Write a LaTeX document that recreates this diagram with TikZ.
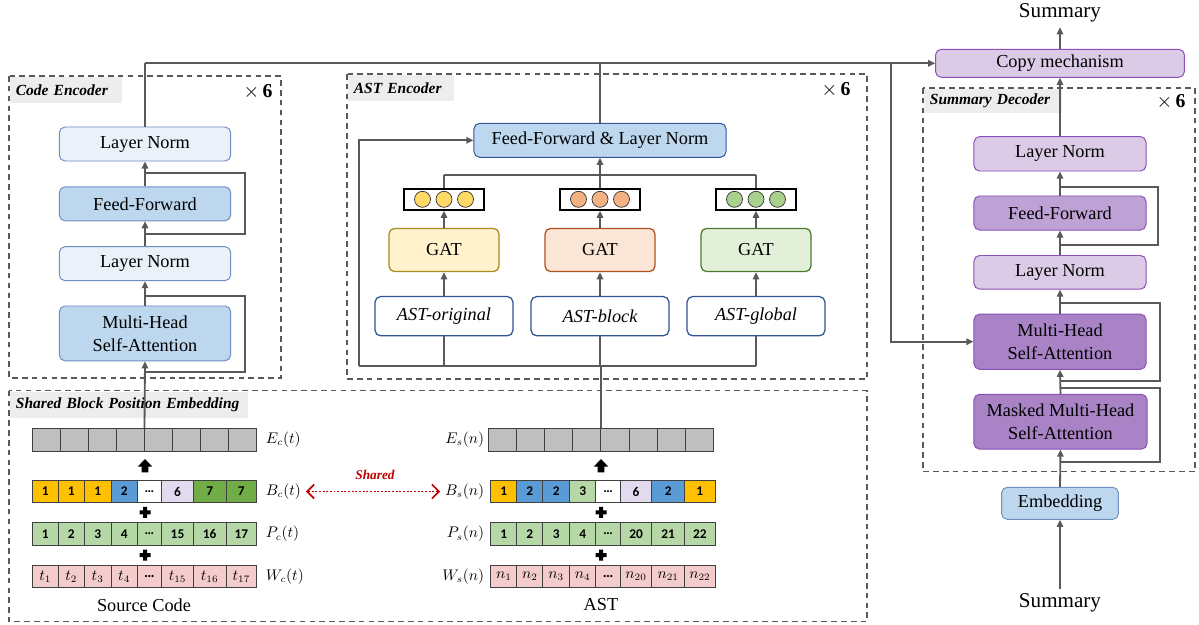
\documentclass[tikz,border=0pt]{standalone}
\usepackage{fontspec}
\setmainfont{Liberation Serif}
\newfontfamily\cellfont{Carlito}
\usetikzlibrary{arrows.meta}

\definecolor{linegray}{HTML}{595959}
\definecolor{tagbg}{HTML}{EDEDED}
\definecolor{encLight}{HTML}{EAF1F9}
\definecolor{encBlue}{HTML}{BDD7EE}
\definecolor{encEdge}{HTML}{6F8FBF}
\definecolor{astEdge}{HTML}{2F5597}
\definecolor{gatYfill}{HTML}{FFF2CC}
\definecolor{gatYedge}{HTML}{A68A1C}
\definecolor{gatOfill}{HTML}{FBE5D6}
\definecolor{gatOedge}{HTML}{B0501E}
\definecolor{gatGfill}{HTML}{E2F0D9}
\definecolor{gatGedge}{HTML}{4E7A30}
\definecolor{dotY}{HTML}{FFD966}
\definecolor{dotO}{HTML}{F4B183}
\definecolor{dotG}{HTML}{A9D18E}
\definecolor{decLight}{HTML}{DCCBE6}
\definecolor{decMid}{HTML}{BFA2D5}
\definecolor{decDark}{HTML}{A983C6}
\definecolor{decEdge}{HTML}{8A4FB8}
\definecolor{cellGray}{HTML}{BFBFBF}
\definecolor{cellYel}{HTML}{FFC000}
\definecolor{cellBlue}{HTML}{5B9BD5}
\definecolor{cellPurp}{HTML}{E4DAF0}
\definecolor{cellGreen}{HTML}{70AD47}
\definecolor{cellPos}{HTML}{B5D8A6}
\definecolor{cellTok}{HTML}{F4CCCC}
\definecolor{sharedRed}{HTML}{C00000}

\begin{document}
\begin{tikzpicture}[x=0.025cm, y=-0.025cm,
	every node/.style={font=\fontsize{13}{16.5}\selectfont},
	>={Triangle[length=5pt, width=4.5pt]},
	blk/.style={draw, rounded corners=4pt, align=center, line width=0.7pt, inner sep=1pt},
	link/.style={draw=linegray, line width=1.3pt},
	frame/.style={draw=linegray, line width=0.9pt, dash pattern=on 4pt off 3pt},
	tag/.style={fill=tagbg, anchor=north west, align=left, inner xsep=4pt, minimum height=0.65cm, font=\fontsize{11}{13}\selectfont\bfseries\itshape},
	rep/.style={font=\fontsize{14}{16}\selectfont},
	cell/.style={draw=black!75, line width=0.6pt},
	num/.style={font=\cellfont\bfseries\fontsize{9.5}{11}\selectfont},
	tok/.style={font=\fontsize{10.5}{12}\selectfont},
	eq/.style={font=\fontsize{10.5}{12}\selectfont},
	vecbox/.style={draw=black, line width=1.3pt, minimum width=1.98cm, minimum height=0.53cm, inner sep=0pt}]
	\useasboundingbox (0,0) rectangle (1199,625);

	% dashed frames and their tags
	\draw[frame] (9,76) rectangle (281,378);
	\draw[frame] (347,74) rectangle (867,379);
	\draw[frame] (923,88) rectangle (1195,471.7);
	\draw[frame] (9,390.7) rectangle (867,621.7);
	\node[tag, text width=2.5cm] (ceTag) at (10,77) {Code Encoder};
	\node[tag, text width=2.35cm] (astTag) at (348,75) {AST Encoder};
	\node[tag, text width=3.15cm, minimum height=0.6cm] (decTag) at (924,89) {Summary Decoder};
	\node[tag, text width=5.65cm] (embTag) at (10,391.7) {Shared Block Position Embedding};
	\node[rep] (ceRep) at (258,92) {$\times$\,\textbf{6}};
	\node[rep] (astRep) at (836,90) {$\times$\,\textbf{6}};
	\node[rep] (decRep) at (1171,101.7) {$\times$\,\textbf{6}};

	% code encoder
	\node[blk, fill=encLight, draw=encEdge, minimum width=4.28cm, minimum height=0.85cm] (ceLN2) at (145,144) {Layer Norm};
	\node[blk, fill=encBlue, draw=encEdge, minimum width=4.28cm, minimum height=0.85cm] (ceFF) at (145,203.8) {Feed-Forward};
	\node[blk, fill=encLight, draw=encEdge, minimum width=4.28cm, minimum height=0.85cm] (ceLN1) at (145,263.7) {Layer Norm};
	\node[blk, fill=encBlue, draw=encEdge, minimum width=4.28cm, minimum height=1.37cm] (ceMHA) at (145,333.4) {Multi-Head\\Self-Attention};
	\coordinate (ceS1) at (145,173.3);
	\coordinate (ceS2) at (145,234.3);
	\coordinate (ceS3) at (145,295.7);
	\coordinate (ceS4) at (145,372.3);
	\draw[link] (ceS1) -- ++(100,0) |- (ceS2);
	\draw[link] (ceS3) -- ++(100,0) |- (ceS4);
	\draw[link,->] (ceFF.north) -- (ceLN2.south);
	\draw[link,->] (ceLN1.north) -- (ceFF.south);
	\draw[link,->] (ceMHA.north) -- (ceLN1.south);

	% AST encoder
	\node[blk, fill=encBlue, draw=astEdge, minimum width=6.3cm, minimum height=0.85cm] (astFF) at (600,140.3) {Feed-Forward \& Layer Norm};
	\coordinate (mergeL) at (444,175);
	\coordinate (mergeR) at (756,175);
	\coordinate (busL) at (359,365.7);
	\coordinate (busR) at (756,365.7);
	\foreach \nm/\cx/\fc/\ec/\dc/\kind in {O/444/gatYfill/gatYedge/dotY/original, B/600/gatOfill/gatOedge/dotO/block, G/756/gatGfill/gatGedge/dotG/global} {
		\node[blk, fill=white, draw=astEdge, line width=0.9pt, minimum width=3.45cm, minimum height=0.98cm, font=\fontsize{13}{16.5}\selectfont\itshape] (ast\nm) at (\cx,316.2) {AST-\kind};
		\node[blk, fill=\fc, draw=\ec, line width=0.9pt, minimum width=2.75cm, minimum height=1.08cm] (gat\nm) at (\cx,250) {GAT};
		\node[vecbox] (vec\nm) at (\cx,199.3) {};
		\foreach \dx in {-21.5,0,21.5} {\filldraw[fill=\dc, draw=black!80, line width=0.5pt] (vec\nm) ++(\dx,0) circle (0.2cm);}
		\draw[link,->] (ast\nm.north) -- (gat\nm.south);
		\draw[link,->] (gat\nm.north) -- (vec\nm.south);
		\draw[link] (vec\nm.north) -- (vec\nm.north |- mergeL);
		\draw[link] (ast\nm.south) -- (ast\nm.south |- busL);
	}
	\draw[link] (mergeL) -- (mergeR);
	\draw[link,->] (astFF.south |- mergeL) -- (astFF.south);
	\draw[link] (busR) -- (busL);
	\draw[link,->] (busL) |- (astFF.west);

	% summary decoder
	\node[font=\fontsize{15}{17}\selectfont] (sumOut) at (1060,13) {Summary};
	\node[blk, fill=decLight, draw=decEdge, minimum width=6.22cm, minimum height=0.7cm] (copy) at (1060,63.3) {Copy mechanism};
	\node[blk, fill=decLight, draw=decEdge, minimum width=4.3cm, minimum height=0.86cm] (dLN2) at (1060,153.8) {Layer Norm};
	\node[blk, fill=decMid, draw=decEdge, minimum width=4.3cm, minimum height=0.85cm] (dFF) at (1060,213) {Feed-Forward};
	\node[blk, fill=decLight, draw=decEdge, minimum width=4.3cm, minimum height=0.84cm] (dLN1) at (1060,272.3) {Layer Norm};
	\node[blk, fill=decDark, draw=decEdge, minimum width=4.3cm, minimum height=1.38cm] (dMHA) at (1060,341.7) {Multi-Head\\Self-Attention};
	\node[blk, fill=decDark, draw=decEdge, minimum width=4.33cm, minimum height=1.37cm] (dMMHA) at (1060.5,421.7) {Masked Multi-Head\\Self-Attention};
	\node[blk, fill=encBlue, draw=encEdge, minimum width=2.92cm, minimum height=0.8cm] (dEmb) at (1060,503.3) {Embedding};
	\node[font=\fontsize{15}{17}\selectfont] (sumIn) at (1060,603) {Summary};
	\coordinate (dS1) at (1060,187.3);
	\coordinate (dS2) at (1060,245);
	\coordinate (dS3) at (1060,302.7);
	\coordinate (dS4) at (1060,381);
	\coordinate (dS5) at (1060,388.3);
	\coordinate (dS6) at (1060,462.3);
	\draw[link] (dS1) -- ++(97.7,0) |- (dS2);
	\draw[link] (dS3) -- ++(100,0) |- (dS4);
	\draw[link] (dS5) -- ++(100,0) |- (dS6);
	\draw[link,->] (copy.north) -- (sumOut.south);
	\draw[link,->] (dLN2.north) -- (copy.south);
	\draw[link,->] (dFF.north) -- (dLN2.south);
	\draw[link,->] (dLN1.north) -- (dFF.south);
	\draw[link,->] (dMHA.north) -- (dLN1.south);
	\draw[link,->] (dMMHA.north) -- (dMHA.south);
	\draw[link,->] (dEmb.north) -- (dMMHA.south);
	\draw[link,->] (sumIn.north) -- (dEmb.south);

	% encoder outputs to the decoder
	\coordinate (topL) at (ceLN2.north |- copy.west);
	\coordinate (tap) at (891,63.3);
	\draw[link] (ceLN2.north) -- (topL);
	\draw[link,->] (topL) -- (copy.west);
	\draw[link] (astFF.north) -- (astFF.north |- copy.west);
	\draw[link,->] (tap) |- (dMHA.west);

	% shared block position embedding: source code side
	\node[cell, fill=cellGray, minimum width=5.61cm, minimum height=0.5675cm, inner sep=0pt] (ecRow) at (144.5,439.7) {};
	\foreach \i in {1,...,7} {\draw[cell] ({32.3+28.05*\i},428.3) -- ++(0,22.7);}
	\foreach \xa/\xb/\col/\txt [count=\i] in {32.3/58.3/cellYel/1, 58.3/84.3/cellYel/1, 84.3/111/cellYel/1, 111/137.3/cellBlue/2, 137.3/161.7/white/\ldots, 161.7/193.3/cellPurp/6, 193.3/226/cellGreen/7, 226/256.7/cellGreen/7} {
		\draw[cell, fill=\col] (\xa,480.7) rectangle (\xb,502.3);
		\node[num] (bc\i) at ({(\xa+\xb)/2},491.5) {\txt};
	}
	\foreach \xa/\xb/\txt [count=\i] in {32.3/58.3/1, 58.3/84.3/2, 84.3/111/3, 111/137.3/4, 137.3/161.7/\ldots, 161.7/193.3/15, 193.3/226/16, 226/256.7/17} {
		\draw[cell, fill=cellPos] (\xa,522.7) rectangle (\xb,545);
		\node[num] (pc\i) at ({(\xa+\xb)/2},533.9) {\txt};
	}
	\foreach \xa/\xb/\txt [count=\i] in {32.3/58.3/$t_{1}$, 58.3/84.3/$t_{2}$, 84.3/111/$t_{3}$, 111/137.3/$t_{4}$, 137.3/161.7/{\cellfont\bfseries\ldots}, 161.7/193.3/$t_{15}$, 193.3/226/$t_{16}$, 226/256.7/$t_{17}$} {
		\draw[cell, fill=cellTok] (\xa,565.7) rectangle (\xb,587.3);
		\node[tok] (wc\i) at ({(\xa+\xb)/2},576.5) {\txt};
	}
	\node[eq, anchor=west] (lEc) at (261,439.7) {$E_c(t)$};
	\node[eq, anchor=west] (lBc) at (261,491.5) {$B_c(t)$};
	\node[eq, anchor=west] (lPc) at (261,533.9) {$P_c(t)$};
	\node[eq, anchor=west] (lWc) at (261,576.5) {$W_c(t)$};
	\node (srcCode) at (144,605) {Source Code};

	% shared block position embedding: AST side
	\node[cell, fill=cellGray, minimum width=5.625cm, minimum height=0.5675cm, inner sep=0pt] (esRow) at (600.8,439.7) {};
	\foreach \i in {1,...,7} {\draw[cell] ({488.3+28.125*\i},428.3) -- ++(0,22.7);}
	\begin{scope}[xshift=11.46cm]
		\foreach \xa/\xb/\col/\txt [count=\i] in {32.3/58.3/cellYel/1, 58.3/84.3/cellBlue/2, 84.3/111/cellBlue/2, 111/137.3/cellPos/3, 137.3/161.7/white/\ldots, 161.7/193.3/cellPurp/6, 193.3/226/cellBlue/2, 226/256.7/cellYel/1} {
			\draw[cell, fill=\col] (\xa,480.7) rectangle (\xb,502.3);
			\node[num] (bs\i) at ({(\xa+\xb)/2},491.5) {\txt};
		}
		\foreach \xa/\xb/\txt [count=\i] in {32.3/58.3/1, 58.3/84.3/2, 84.3/111/3, 111/137.3/4, 137.3/161.7/\ldots, 161.7/193.3/20, 193.3/226/21, 226/256.7/22} {
			\draw[cell, fill=cellPos] (\xa,522.7) rectangle (\xb,545);
			\node[num] (ps\i) at ({(\xa+\xb)/2},533.9) {\txt};
		}
		\foreach \xa/\xb/\txt [count=\i] in {32.3/58.3/$n_{1}$, 58.3/84.3/$n_{2}$, 84.3/111/$n_{3}$, 111/137.3/$n_{4}$, 137.3/161.7/{\cellfont\bfseries\ldots}, 161.7/193.3/$n_{20}$, 193.3/226/$n_{21}$, 226/256.7/$n_{22}$} {
			\draw[cell, fill=cellTok] (\xa,565.7) rectangle (\xb,587.3);
			\node[tok] (ws\i) at ({(\xa+\xb)/2},576.5) {\txt};
		}
	\end{scope}
	\node[eq, anchor=east] (lEs) at (489,439.7) {$E_s(n)$};
	\node[eq, anchor=east] (lBs) at (489,491.5) {$B_s(n)$};
	\node[eq, anchor=east] (lPs) at (489,533.9) {$P_s(n)$};
	\node[eq, anchor=east] (lWs) at (489,576.5) {$W_s(n)$};
	\node (astName) at (601,605) {AST};

	% sum signs and lift arrows
	\foreach \cx in {145,601} {
		\fill[shift={(\cx,459)}] (-7.3,7.7) -- (0,0) -- (7.3,7.7) -- (3.3,7.7) -- (3.3,13.3) -- (-3.3,13.3) -- (-3.3,7.7) -- cycle;
		\foreach \py in {512.3,555} {\fill[shift={(\cx,\py)}] (-5.5,-2) rectangle (5.5,2) (-2,-5.5) rectangle (2,5.5);}
	}
	\node[font=\fontsize{9.5}{11}\selectfont\bfseries\itshape, text=sharedRed] (sharedTag) at (375,475) {Shared};
	\draw[sharedRed, line width=1.4pt, dash pattern=on 1.4pt off 1.2pt, {Straight Barb[length=5pt, width=10pt, line width=1.2pt]}-{Straight Barb[length=5pt, width=10pt, line width=1.2pt]}] (lBc.east) -- (lBs.west);

	% embeddings into the encoders
	\draw[link,->] (ecRow.north) -- (ceMHA.south);
	\draw[link] (esRow.north) -- (esRow.north |- busL);
\end{tikzpicture}
\end{document}
